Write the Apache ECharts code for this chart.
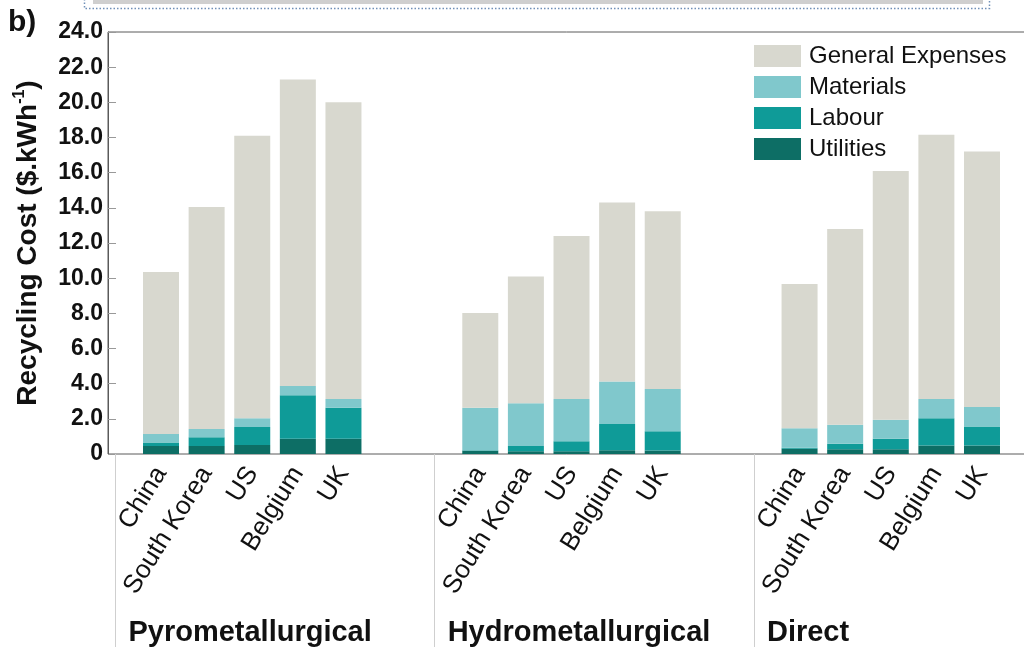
<!DOCTYPE html>
<html>
<head>
<meta charset="utf-8">
<script src="https://cdn.jsdelivr.net/npm/echarts@6/dist/echarts.min.js"></script>
<style>
  html, body { margin: 0; padding: 0; background: #fff; }
  #recycling-chart { width: 1024px; height: 647px; }
</style>
</head>
<body>
<div id="recycling-chart"></div>
<script>
// one slot per bar, plus a divider slot before each group and a blank after it
const countries = ['China', 'South Korea', 'US', 'Belgium', 'UK'];
const methods = ['Pyrometallurgical', 'Hydrometallurgical', 'Direct'];

// stacked parts, in $/kWh, per method (China, South Korea, US, Belgium, UK)
const utilities = {
  Pyrometallurgical: [0.45, 0.45, 0.51, 0.87, 0.87],
  Hydrometallurgical: [0.18, 0.15, 0.15, 0.22, 0.2],
  Direct: [0.3, 0.27, 0.27, 0.49, 0.49],
};
const labour = {
  Pyrometallurgical: [0.2, 0.5, 1.03, 2.47, 1.76],
  Hydrometallurgical: [0.04, 0.3, 0.57, 1.48, 1.09],
  Direct: [0.06, 0.32, 0.6, 1.54, 1.08],
};
const materials = {
  Pyrometallurgical: [0.49, 0.47, 0.49, 0.53, 0.5],
  Hydrometallurgical: [2.41, 2.43, 2.41, 2.43, 2.41],
  Direct: [1.1, 1.08, 1.08, 1.1, 1.1],
};
const generalExpenses = {
  Pyrometallurgical: [9.21, 12.63, 16.07, 17.43, 16.87],
  Hydrometallurgical: [5.39, 7.22, 9.27, 10.17, 10.1],
  Direct: [8.21, 11.13, 14.15, 15.02, 14.53],
};

const yTickLabels = ['0', '2.0', '4.0', '6.0', '8.0', '10.0', '12.0',
  '14.0', '16.0', '18.0', '20.0', '22.0', '24.0'];

// build the slot lists
const slotLabels = [];
const groupLabels = [];
const dividerSlots = [];
methods.forEach((m, i) => {
  dividerSlots.push(slotLabels.length);
  slotLabels.push('');
  groupLabels.push(m);
  countries.forEach((c) => {
    slotLabels.push(c);
    groupLabels.push('');
  });
  if (i < methods.length - 1) {
    slotLabels.push('');
    groupLabels.push('');
  }
});

const toSlots = (part) => {
  const out = [];
  methods.forEach((m, i) => {
    out.push('-');
    part[m].forEach((v) => out.push(v));
    if (i < methods.length - 1) out.push('-');
  });
  return out;
};

const FONT = '"Liberation Sans", Arial, sans-serif';

const barSeries = (name, part, color) => ({
  name: name,
  type: 'bar',
  stack: 'cost',
  xAxisIndex: 1,
  yAxisIndex: 1,
  barWidth: 36,
  itemStyle: { color: color },
  data: toSlots(part),
});

const chart = echarts.init(document.getElementById('recycling-chart'));

chart.setOption({
  animation: false,
  textStyle: { fontFamily: FONT },
  grid: [
    // frame and value axis
    {
      left: 108, top: 32, right: -10, bottom: 193,
      show: true, borderColor: '#5a5a5a', borderWidth: 1,
      outerBoundsMode: 'none', containLabel: false,
    },
    // bars
    { left: 92.6, top: 32, right: 19.2, bottom: 193, outerBoundsMode: 'none', containLabel: false },
  ],
  legend: {
    orient: 'vertical',
    left: 749,
    top: 39,
    icon: 'rect',
    itemWidth: 47,
    itemHeight: 22,
    itemGap: 7,
    textStyle: { fontSize: 24, color: '#111', fontFamily: FONT, padding: [0, 0, 0, 3] },
    data: ['General Expenses', 'Materials', 'Labour', 'Utilities'],
  },
  xAxis: [
    { gridIndex: 0, type: 'value', min: 0, max: 1, show: false },
    {
      gridIndex: 1,
      type: 'category',
      position: 'bottom',
      data: slotLabels,
      axisLine: { show: false },
      axisTick: {
        show: true,
        alignWithLabel: true,
        length: 193,
        interval: (index) => dividerSlots.indexOf(index) !== -1,
        lineStyle: { color: '#cfcfcf', width: 1 },
      },
      axisLabel: {
        interval: 0,
        rotate: 58,
        margin: 15,
        fontSize: 26,
        color: '#111',
        fontFamily: FONT,
      },
    },
    {
      gridIndex: 1,
      type: 'category',
      position: 'bottom',
      offset: 164,
      data: groupLabels,
      axisLine: { show: false },
      axisTick: { show: false },
      axisLabel: {
        interval: 0,
        align: 'left',
        margin: 0,
        padding: [0, 0, 0, 13],
        fontSize: 29,
        fontWeight: 'bold',
        color: '#111',
        fontFamily: FONT,
      },
    },
  ],
  yAxis: [
    {
      gridIndex: 0,
      type: 'value',
      min: 0,
      max: 24,
      interval: 2,
      axisLine: { show: true, lineStyle: { color: '#5a5a5a', width: 1 } },
      axisTick: { show: true, inside: true, length: 8, lineStyle: { color: '#999' } },
      splitLine: { show: false },
      axisLabel: {
        margin: 5,
        fontSize: 23,
        fontWeight: 'bold',
        color: '#111',
        fontFamily: FONT,
        formatter: (value, index) => yTickLabels[index],
      },
      name: '{t|Recycling Cost ($.kWh}{s|-1}{t|)}',
      nameLocation: 'middle',
      nameRotate: 90,
      nameGap: 64,
      nameMoveOverlap: false,
      nameTextStyle: {
        rich: {
          t: { fontSize: 28, fontWeight: 'bold', color: '#111', fontFamily: FONT, lineHeight: 32 },
          s: { fontSize: 16, fontWeight: 'bold', color: '#111', fontFamily: FONT, verticalAlign: 'top', lineHeight: 32 },
        },
      },
    },
    { gridIndex: 1, type: 'value', min: 0, max: 24, show: false },
  ],
  graphic: [
    {
      type: 'rect',
      shape: { x: 93, y: 0, width: 890, height: 4 },
      style: { fill: '#cfcfcf' },
    },
    {
      type: 'rect',
      shape: { x: 84.5, y: -4, width: 905, height: 12.5 },
      style: { fill: 'none', stroke: '#6f8fb8', lineWidth: 1.5, lineDash: [1.5, 2] },
    },
    {
      type: 'text',
      left: 8,
      top: 8,
      style: { text: 'b)', font: 'bold 30px "Liberation Sans", Arial, sans-serif', fill: '#111' },
    },
  ],
  series: [
    barSeries('Utilities', utilities, '#0d6e65'),
    barSeries('Labour', labour, '#0f9b98'),
    barSeries('Materials', materials, '#80c8cc'),
    barSeries('General Expenses', generalExpenses, '#d8d8cf'),
  ],
});

window.addEventListener('resize', function () {
  chart.resize();
});
</script>
</body>
</html>
